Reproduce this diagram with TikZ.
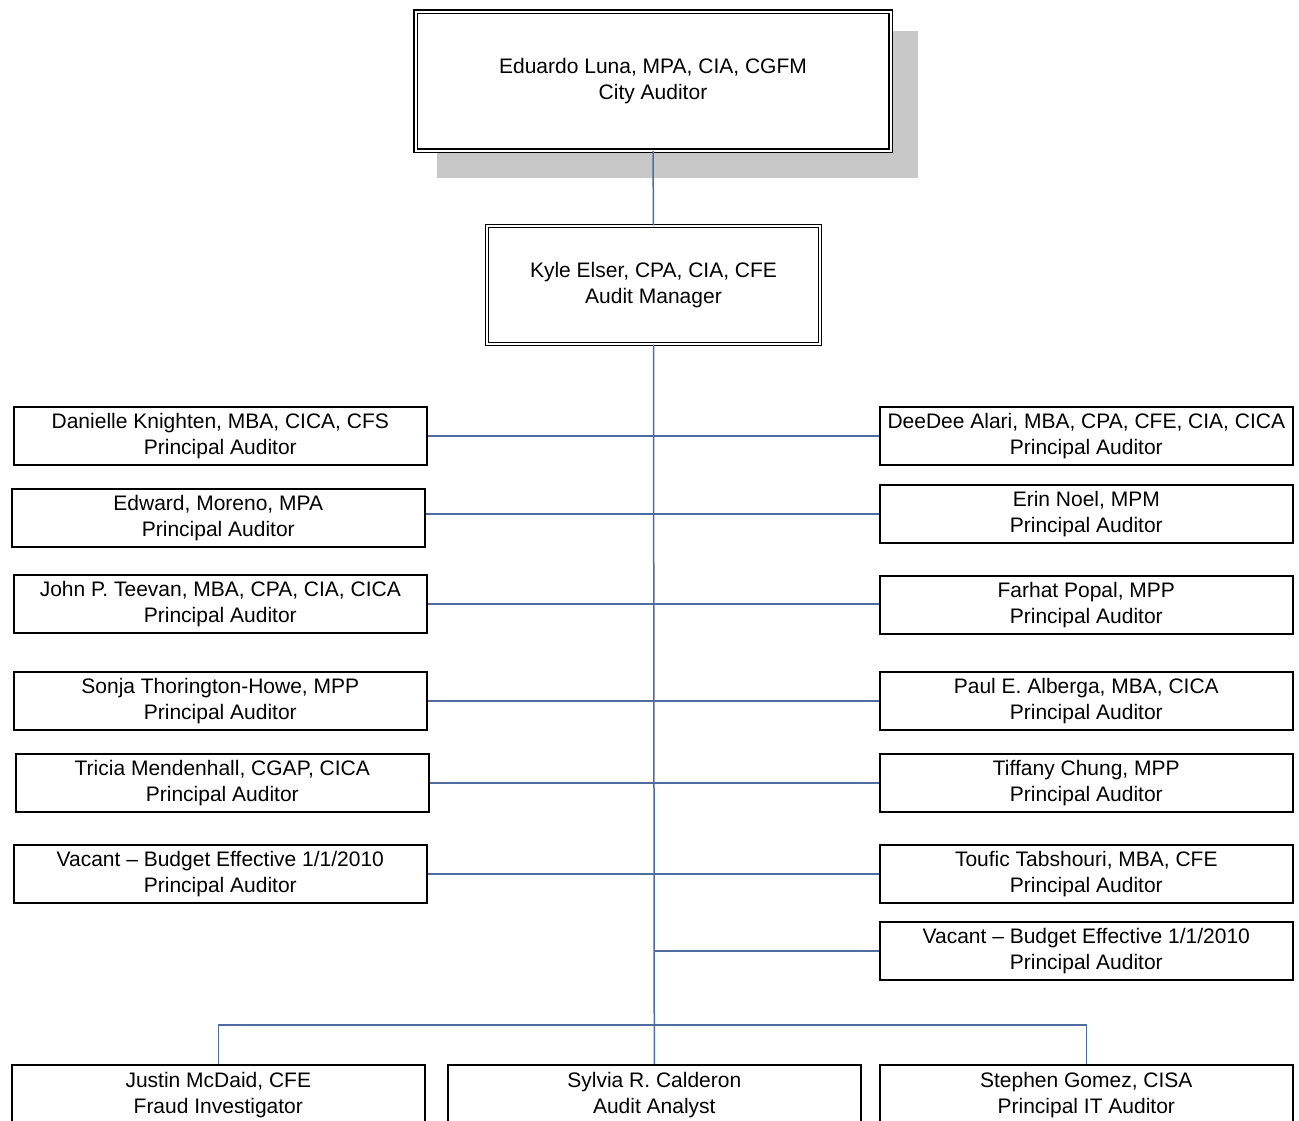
\documentclass[tikz,border=0pt]{standalone}
\usepackage{fontspec}
\setmainfont{Liberation Sans}
\definecolor{linkblue}{RGB}{78,108,160}
\definecolor{shadowgray}{RGB}{200,200,200}
\begin{document}
\begin{tikzpicture}[x=1pt,y=-1pt,
  txt/.style={font=\fontsize{21}{26}\selectfont, align=center, inner sep=0pt},
  sidebox/.style={txt, draw=black, line width=1.6pt, anchor=north west, minimum width=413pt, minimum height=58pt},
  headbox/.style={txt, draw=black, line width=1.3pt, double, double distance=2pt, fill=white},
  link/.style={draw=linkblue, line width=1.5pt}
]
\useasboundingbox (0,0) rectangle (1299,1120);
\clip (0,0) rectangle (1299,1120);
\fill[white] (0,0) rectangle (1299,1120);

% shadow of the top box
\fill[shadowgray] (437,31) rectangle (918,178);

\node[headbox, minimum width=475pt, minimum height=139pt] (luna) at (653,81) {Eduardo Luna, MPA, CIA, CGFM\\City Auditor};
\node[headbox, minimum width=333pt, minimum height=118pt] (kyle) at (653.5,285) {Kyle Elser, CPA, CIA, CFE\\Audit Manager};

% left column
\node[sidebox] (l1) at (13,406) {Danielle Knighten, MBA, CICA, CFS\\Principal Auditor};
\node[sidebox] (l2) at (11,488) {Edward, Moreno, MPA\\Principal Auditor};
\node[sidebox] (l3) at (13,574) {John P. Teevan, MBA, CPA, CIA, CICA\\Principal Auditor};
\node[sidebox] (l4) at (13,671) {Sonja Thorington-Howe, MPP\\Principal Auditor};
\node[sidebox] (l5) at (15,753) {Tricia Mendenhall, CGAP, CICA\\Principal Auditor};
\node[sidebox] (l6) at (13,844) {Vacant -- Budget Effective 1/1/2010\\Principal Auditor};

% right column
\node[sidebox] (r1) at (879,406) {DeeDee Alari, MBA, CPA, CFE, CIA, CICA\\Principal Auditor};
\node[sidebox] (r2) at (879,484) {Erin Noel, MPM\\Principal Auditor};
\node[sidebox] (r3) at (879,575) {Farhat Popal, MPP\\Principal Auditor};
\node[sidebox] (r4) at (879,671) {Paul E. Alberga, MBA, CICA\\Principal Auditor};
\node[sidebox] (r5) at (879,753) {Tiffany Chung, MPP\\Principal Auditor};
\node[sidebox] (r6) at (879,844) {Toufic Tabshouri, MBA, CFE\\Principal Auditor};
\node[sidebox] (r7) at (879,921) {Vacant -- Budget Effective 1/1/2010\\Principal Auditor};

% bottom row
\node[sidebox, minimum height=60pt] (b1) at (11,1064) {Justin McDaid, CFE\\Fraud Investigator};
\node[sidebox, minimum height=60pt] (b2) at (447,1064) {Sylvia R. Calderon\\Audit Analyst};
\node[sidebox, minimum height=60pt] (b3) at (879,1064) {Stephen Gomez, CISA\\Principal IT Auditor};

\coordinate (bar) at (653,1025);

% connectors
\draw[link] (luna.south) -- (kyle.north);
\draw[link] (kyle.south) -- (b2.north);
\draw[link] (l1.east) -- (l1.east -| r1.west);
\draw[link] (r2.west -| l2.east) -- (r2.west);
\draw[link] (l3.east) -- (l3.east -| r3.west);
\draw[link] (l4.east) -- (l4.east -| r4.west);
\draw[link] (l5.east) -- (l5.east -| r5.west);
\draw[link] (l6.east) -- (l6.east -| r6.west);
\draw[link] (r7.west -| kyle.south) -- (r7.west);
\draw[link] (b1.north) -- (b1.north |- bar) -- (b3.north |- bar) -- (b3.north);
\end{tikzpicture}
\end{document}
